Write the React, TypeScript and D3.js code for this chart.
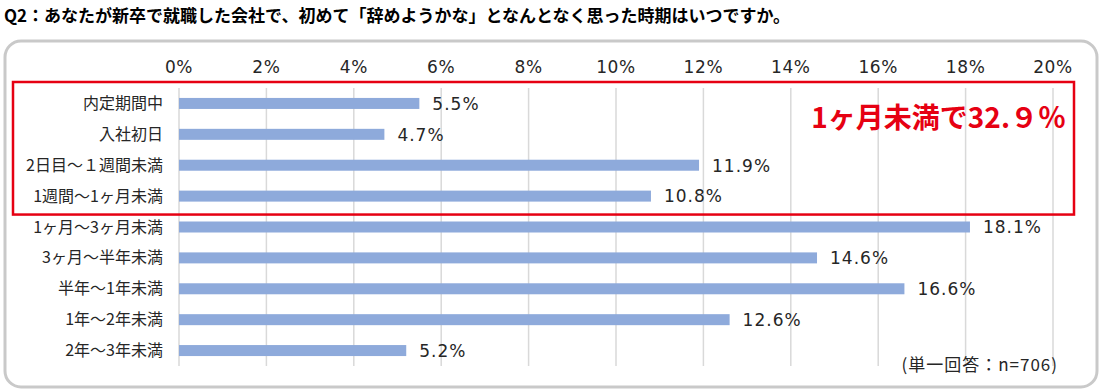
import React from 'react';
import * as d3 from 'd3';

const TITLE = 'Q2：あなたが新卒で就職した会社で、初めて「辞めようかな」となんとなく思った時期はいつですか。';
const CATEGORIES = [
  '内定期間中',
  '入社初日',
  '2日目～１週間未満',
  '1週間～1ヶ月未満',
  '1ヶ月～3ヶ月未満',
  '3ヶ月～半年未満',
  '半年～1年未満',
  '1年～2年未満',
  '2年～3年未満',
];
const VALUES = [5.5, 4.7, 11.9, 10.8, 18.1, 14.6, 16.6, 12.6, 5.2];
const TICKS = [0, 2, 4, 6, 8, 10, 12, 14, 16, 18, 20];
const HIGHLIGHT_COUNT = 4;
const HIGHLIGHT_TEXT = '1ヶ月未満で32.９％';
const NOTE = '(単一回答：n=706)';

const FONT = '"Noto Sans CJK JP", "Noto Sans", sans-serif';
const NUM_FONT = '"DejaVu Sans", sans-serif';

export default function App() {
  const width = 1103, height = 392;
  const x = d3.scaleLinear().domain([0, 20]).range([179, 1053]);
  const y = d3.scaleBand().domain(CATEGORIES).range([88, 366]);
  const barH = 11;

  const hiTop = 82;
  const hiBottom = y(CATEGORIES[HIGHLIGHT_COUNT - 1])! + y.bandwidth() + 3;

  return (
    <svg width={width} height={height} style={{ position: 'absolute', left: 0, top: 0, fontFamily: FONT }}>
      <rect width={width} height={height} fill="#fff" />
      <text x={4} y={22} fontSize={17} fontWeight="bold" fill="#000">{TITLE}</text>
      <rect x={5} y={41} width={1092} height={346} rx={16} fill="#fff" stroke="#c9c9c9" strokeWidth={3} />

      {/* grid + ticks */}
      {TICKS.map(t => (
        <g key={t}>
          <line x1={x(t)} x2={x(t)} y1={88} y2={366} stroke="#d9d9d9" strokeWidth={1.5} />
          <text x={x(t)} y={73} textAnchor="middle" fontSize={17} letterSpacing={0.6} fontFamily={NUM_FONT} fill="#262626">{t}%</text>
        </g>
      ))}

      {/* bars */}
      {CATEGORIES.map((c, i) => {
        const cy = y(c)! + y.bandwidth() / 2;
        return (
          <g key={c}>
            <text x={163} y={cy} dy="0.35em" textAnchor="end" fontSize={16} fill="#262626">{c}</text>
            <rect x={x(0)} y={cy - barH / 2} width={x(VALUES[i]) - x(0)} height={barH} fill="#8eaadb" />
            <text x={x(VALUES[i]) + 13} y={cy} dy="0.37em" fontSize={17} letterSpacing={1} fontFamily={NUM_FONT} fill="#262626">{VALUES[i].toFixed(1)}%</text>
          </g>
        );
      })}

      {/* highlight box */}
      <rect x={13} y={hiTop} width={1061} height={hiBottom - hiTop} fill="none" stroke="#e60012" strokeWidth={2.5} />
      <text x={1066} y={128} textAnchor="end" fontSize={28} fontWeight="bold" fill="#e60012">{HIGHLIGHT_TEXT}</text>

      <text x={1058} y={371} textAnchor="end" fontSize={17} letterSpacing={1} fill="#262626">{NOTE}</text>
    </svg>
  );
}
